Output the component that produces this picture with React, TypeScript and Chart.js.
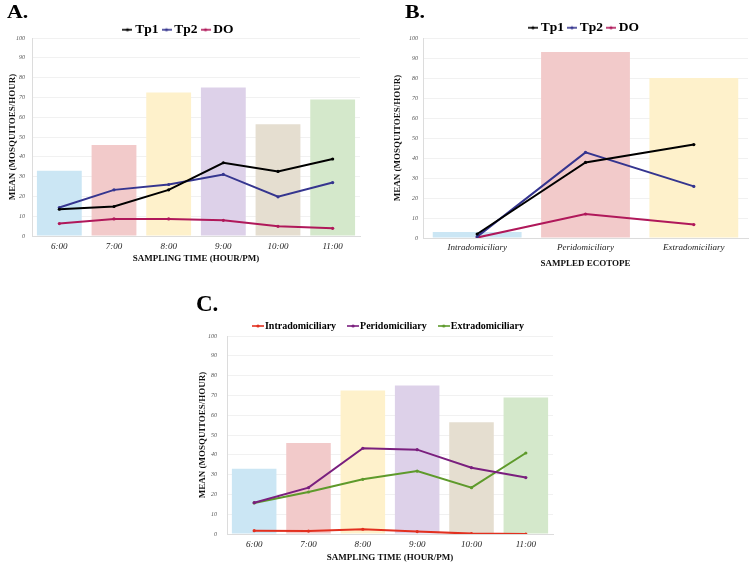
import React, { useEffect, useRef } from "react";
import { Chart, registerables } from "chart.js";

Chart.register(...registerables);

// ---------- DATA ----------
const hours = ["6:00", "7:00", "8:00", "9:00", "10:00", "11:00"];
const hourBars = [33, 46, 72.5, 75, 56.5, 69];
const tp1ByHour = [13.5, 14.9, 23.3, 37, 32.6, 38.9];
const tp2ByHour = [14.4, 23.3, 26, 31.1, 19.8, 27];
const doByHour = [6.3, 8.6, 8.6, 7.9, 4.9, 3.9];

const ecotopes = ["Intradomiciliary", "Peridomiciliary", "Extradomiciliary"];
const ecotopeBars = [3, 93, 80];
const tp1ByEcotope = [2, 37.8, 46.7];
const tp2ByEcotope = [0.7, 42.8, 25.8];
const doByEcotope = [0.2, 12, 6.7];

const intraByHour = [1.7, 1.5, 2.4, 1.2, 0.2, 0];
const periByHour = [15.8, 23.4, 43.3, 42.6, 33.5, 28.5];
const extraByHour = [15.7, 21.2, 27.6, 31.8, 23.4, 40.9];

const yTicks = [0, 10, 20, 30, 40, 50, 60, 70, 80, 90, 100];

// ---------- STYLE ----------
const SERIF = "'Liberation Serif', 'Times New Roman', serif";
const hourBarColors = ["#cbe6f4", "#f2caca", "#fef1cb", "#ddd1e9", "#e5ded0", "#d4e8cb"];
const ecoBarColors = ["#cbe6f4", "#f2caca", "#fef1cb"];

function markerCanvas(color: string, w: number) {
  const c = document.createElement("canvas");
  c.width = w;
  c.height = 6;
  const ctx = c.getContext("2d")!;
  ctx.strokeStyle = color;
  ctx.lineWidth = 1.6;
  ctx.beginPath();
  ctx.moveTo(0, 3);
  ctx.lineTo(w, 3);
  ctx.stroke();
  ctx.fillStyle = color;
  ctx.beginPath();
  ctx.arc(w / 2, 3, 1.6, 0, Math.PI * 2);
  ctx.fill();
  return c;
}

function lineDs(label: string, data: number[], color: string) {
  return {
    type: "line" as const,
    label,
    data,
    borderColor: color,
    backgroundColor: color,
    borderWidth: 2,
    pointRadius: 1.6,
    pointHoverRadius: 1.6,
    pointBackgroundColor: color,
    pointBorderWidth: 0,
    tension: 0,
    order: 1,
  };
}

interface PanelCfg {
  labels: string[];
  bars: number[];
  barColors: string[];
  lines: { label: string; data: number[]; color: string }[];
  xTitle: string;
  legendFont: number;
  legendPad: number;
  legendMaxH: number;
  legendFull: boolean;
  markerW: number;
  markerBox: number;
  padding: { left: number; right: number; top: number; bottom: number };
  yWidth: number;
  yTickPad: number;
  yTitlePad: number;
  xHeight: number;
  xTickPad: number;
  xTitlePad: number;
  xTickFont: number;
}

function Panel({ cfg, style }: { cfg: PanelCfg; style: React.CSSProperties }) {
  const ref = useRef<HTMLCanvasElement>(null);
  useEffect(() => {
    const markers: Record<number, HTMLCanvasElement> = {};
    cfg.lines.forEach((l, i) => (markers[i] = markerCanvas(l.color, cfg.markerW)));
    const chart = new Chart(ref.current!, {
      type: "bar",
      data: {
        labels: cfg.labels,
        datasets: [
          ...cfg.lines.map((l) => lineDs(l.label, l.data, l.color)),
          {
            type: "bar" as const,
            label: "bars",
            data: cfg.bars,
            backgroundColor: cfg.barColors,
            borderWidth: 0,
            barPercentage: 0.82,
            categoryPercentage: 1,
            order: 10,
          },
        ] as any,
      },
      options: {
        animation: false,
        responsive: false,
        maintainAspectRatio: false,
        layout: { padding: cfg.padding },
        plugins: {
          tooltip: { enabled: false },
          legend: {
            display: true,
            position: "top",
            fullSize: cfg.legendFull,
            maxHeight: cfg.legendMaxH,
            labels: {
              usePointStyle: true,
              pointStyleWidth: cfg.markerBox,
              padding: cfg.legendPad,
              color: "#000",
              font: { family: SERIF, size: cfg.legendFont, weight: "bold" },
              generateLabels: (ch: any) => {
                const items = Chart.defaults.plugins.legend.labels.generateLabels(ch);
                return items
                  .filter((it: any) => it.datasetIndex < cfg.lines.length)
                  .map((it: any) => ({ ...it, pointStyle: markers[it.datasetIndex] }));
              },
            },
          },
        },
        scales: {
          x: {
            grid: { display: true, color: "rgba(0,0,0,0)", drawTicks: false },
            border: { display: true, color: "#dcdcdc", width: 1 },
            ticks: {
              color: "#222",
              padding: cfg.xTickPad,
              font: { family: SERIF, size: cfg.xTickFont, style: "italic" },
              maxRotation: 0,
              autoSkip: false,
            },
            title: {
              display: true,
              text: cfg.xTitle,
              color: "#111",
              padding: { top: 0, bottom: cfg.xTitlePad },
              font: { family: SERIF, size: 9, weight: "bold" },
            },
            afterFit: (s: any) => {
              s.height = cfg.xHeight;
            },
          },
          y: {
            min: 0,
            max: 100,
            afterBuildTicks: (s: any) => {
              s.ticks = yTicks.map((v) => ({ value: v }));
            },
            grid: { color: "#f1f1f1", lineWidth: 1, drawTicks: false },
            border: { display: true, color: "#dcdcdc", width: 1 },
            ticks: {
              color: "#555",
              padding: cfg.yTickPad,
              font: { family: SERIF, size: 6, style: "italic" },
            },
            title: {
              display: true,
              text: "MEAN (MOSQUITOES/HOUR)",
              color: "#111",
              padding: { top: cfg.yTitlePad, bottom: 0 },
              font: { family: SERIF, size: 9, weight: "bold" },
            },
            afterFit: (s: any) => {
              s.width = cfg.yWidth;
            },
          },
        },
      } as any,
    });
    return () => chart.destroy();
  }, []);
  return (
    <canvas
      ref={ref}
      width={style.width as number}
      height={style.height as number}
      style={{ position: "absolute", ...style }}
    />
  );
}

const cfgA: PanelCfg = {
  labels: hours,
  bars: hourBars,
  barColors: hourBarColors,
  lines: [
    { label: "Tp1", data: tp1ByHour, color: "#000000" },
    { label: "Tp2", data: tp2ByHour, color: "#35358f" },
    { label: "DO", data: doByHour, color: "#b0185a" },
  ],
  xTitle: "SAMPLING TIME (HOUR/PM)",
  legendFont: 13.5,
  legendPad: 7,
  legendMaxH: 22,
  legendFull: true,
  markerW: 10,
  markerBox: 2,
  padding: { left: 0, right: 5, top: 16, bottom: 2 },
  yWidth: 32,
  yTickPad: 7,
  yTitlePad: 7.6,
  xHeight: 30,
  xTickPad: 5.5,
  xTitlePad: 1.6,
  xTickFont: 9,
};

const cfgB: PanelCfg = {
  labels: ecotopes,
  bars: ecotopeBars,
  barColors: ecoBarColors,
  lines: [
    { label: "Tp1", data: tp1ByEcotope, color: "#000000" },
    { label: "Tp2", data: tp2ByEcotope, color: "#35358f" },
    { label: "DO", data: doByEcotope, color: "#b0185a" },
  ],
  xTitle: "SAMPLED ECOTOPE",
  legendFont: 13.5,
  legendPad: 7,
  legendMaxH: 24,
  legendFull: false,
  markerW: 10,
  markerBox: 2,
  padding: { left: 17, right: 2, top: 14, bottom: 2 },
  yWidth: 31,
  yTickPad: 5,
  yTitlePad: 0,
  xHeight: 32,
  xTickPad: 4.3,
  xTitlePad: 0.9,
  xTickFont: 9,
};

const cfgC: PanelCfg = {
  labels: hours,
  bars: hourBars,
  barColors: hourBarColors,
  lines: [
    { label: "Intradomiciliary", data: intraByHour, color: "#e2301f" },
    { label: "Peridomiciliary", data: periByHour, color: "#7a1f7e" },
    { label: "Extradomiciliary", data: extraByHour, color: "#5e9a2b" },
  ],
  xTitle: "SAMPLING TIME (HOUR/PM)",
  legendFont: 10,
  legendPad: 15,
  legendMaxH: 30,
  legendFull: false,
  markerW: 12,
  markerBox: 4,
  padding: { left: 0, right: 2, top: 16, bottom: 1 },
  yWidth: 32,
  yTickPad: 10,
  yTitlePad: 2.6,
  xHeight: 30,
  xTickPad: 5,
  xTitlePad: 1,
  xTickFont: 9,
};

const letterStyle: React.CSSProperties = {
  position: "absolute",
  fontFamily: SERIF,
  fontWeight: "bold",
  color: "#000",
  margin: 0,
  whiteSpace: "nowrap",
};

export default function App() {
  return (
    <div
      style={{
        position: "absolute",
        left: 0,
        top: 0,
        width: 750,
        height: 565,
        overflow: "hidden",
        background: "#fff",
      }}
    >
      <Panel cfg={cfgA} style={{ left: 0, top: 0, width: 365, height: 268 }} />
      <Panel cfg={cfgB} style={{ left: 375, top: 0, width: 375, height: 272 }} />
      <Panel cfg={cfgC} style={{ left: 195, top: 290, width: 360, height: 275 }} />
      <div style={{ ...letterStyle, left: 7, top: 2, fontSize: 19, lineHeight: "19px", transform: "scaleX(1.15)", transformOrigin: "left" }}>A.</div>
      <div style={{ ...letterStyle, left: 405, top: 2, fontSize: 19, lineHeight: "19px", transform: "scaleX(1.15)", transformOrigin: "left" }}>B.</div>
      <div style={{ ...letterStyle, left: 196, top: 292, fontSize: 23, lineHeight: "23px" }}>C.</div>
    </div>
  );
}
